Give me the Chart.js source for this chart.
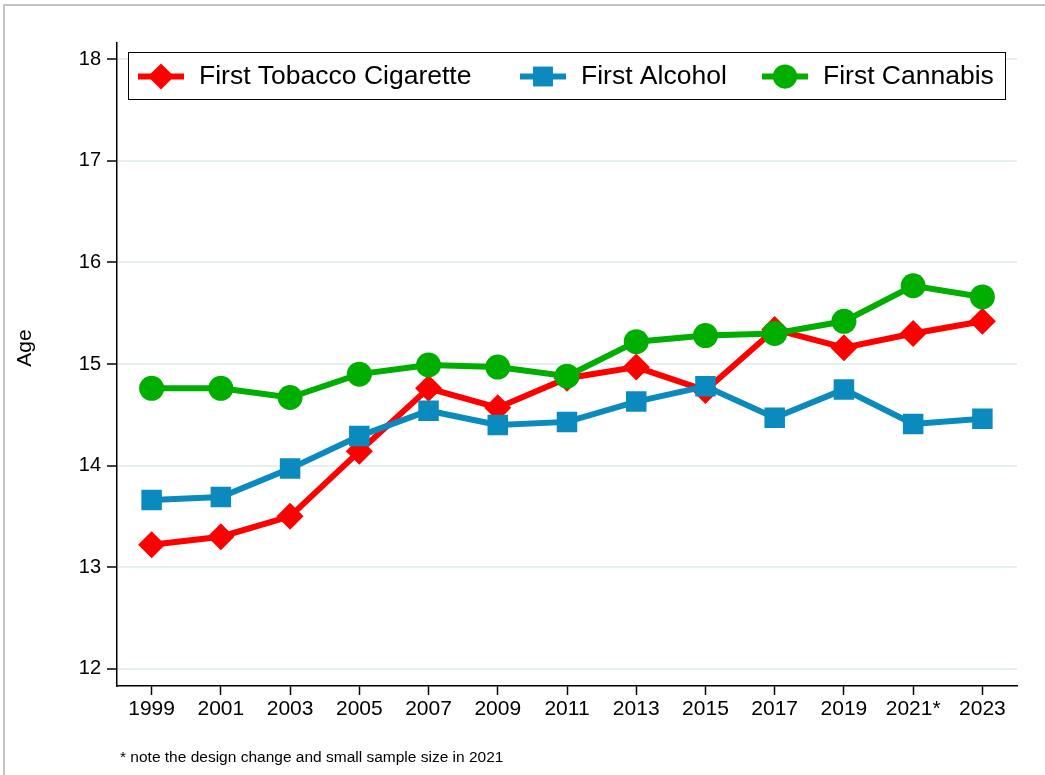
<!DOCTYPE html>
<html>
<head>
<meta charset="utf-8">
<script src="https://cdn.jsdelivr.net/npm/chart.js@4"></script>
<style>
body{margin:0;background:#fff}
#wrap{position:relative;width:1045px;height:775px;overflow:hidden}
#frame{position:absolute;left:3px;top:4px;width:1100px;height:800px;border-left:2px solid #c4c4c4;border-top:2px solid #c4c4c4}
#note{position:absolute;left:120px;top:748px;font:15.5px "Liberation Sans",Arial,sans-serif;color:#000;white-space:nowrap}
canvas{position:absolute;left:0;top:0}
</style>
</head>
<body>
<div id="wrap">
<div id="frame"></div>
<canvas id="ageChart" width="1045" height="775"></canvas>
<div id="note">* note the design change and small sample size in 2021</div>
</div>
<script>

const years=["1999","2001","2003","2005","2007","2009","2011","2013","2015","2017","2019","2021*","2023"]

const tobacco=[13.22,13.30,13.50,14.14,14.76,14.57,14.86,14.97,14.74,15.34,15.16,15.30,15.42]
const alcohol=[13.66,13.69,13.97,14.29,14.54,14.40,14.43,14.63,14.78,14.47,14.75,14.41,14.46]
const cannabis=[14.76,14.76,14.67,14.90,14.99,14.97,14.88,15.22,15.28,15.30,15.42,15.77,15.66]

const yTicks=[12,13,14,15,16,17,18]

const FONT='"Liberation Sans", Arial, sans-serif'

// legend box sits inside the plot, like the stata one
const legendBox={
id:"legendBox",
afterDraw(c){

const ctx=c.ctx
const a=c.chartArea
const bx=a.left+11, by=a.top+9, bw=a.right-a.left-23, bh=47

ctx.save()
ctx.fillStyle="#fff"
ctx.fillRect(bx,by,bw,bh)
ctx.strokeStyle="#000"
ctx.lineWidth=1
ctx.strokeRect(bx+0.5,by+0.5,bw,bh)

ctx.font="26.5px "+FONT
ctx.textBaseline="middle"

const cy=by+bh/2+1
const starts=[10,392,634]

c.data.datasets.forEach((ds,i)=>{

const x0=bx+starts[i]
ctx.strokeStyle=ds.borderColor
ctx.lineWidth=6
ctx.beginPath()
ctx.moveTo(x0,cy)
ctx.lineTo(x0+46,cy)
ctx.stroke()

const mx=x0+23, r=ds.pointRadius*0.97
ctx.fillStyle=ds.backgroundColor
ctx.beginPath()
if(ds.pointStyle=="rectRot"){
ctx.moveTo(mx-r,cy);ctx.lineTo(mx,cy-r);ctx.lineTo(mx+r,cy);ctx.lineTo(mx,cy+r);ctx.closePath()
}else if(ds.pointStyle=="rect"){
const h=r*Math.SQRT1_2
ctx.rect(mx-h,cy-h,2*h,2*h)
}else{
ctx.arc(mx,cy,r,0,Math.PI*2)
}
ctx.fill()

ctx.fillStyle="#000"
ctx.textAlign="left"
ctx.fillText(ds.label,x0+61,cy)

})

// y axis title
ctx.save()
ctx.translate(25,348)
ctx.rotate(-Math.PI/2)
ctx.textAlign="center"
ctx.font="21px "+FONT
ctx.fillText("Age",0,0)
ctx.restore()

ctx.restore()

}
}

const ctx=document.getElementById("ageChart")

chart=new Chart(ctx,{

type:"line",

data:{
labels:years,
datasets:[

{
label:"First Tobacco Cigarette",
data:tobacco,
borderColor:"#ff0000",
backgroundColor:"#ff0000",
pointStyle:"rectRot",
pointRadius:13.5,
order:2
},

{
label:"First Alcohol",
data:alcohol,
borderColor:"#0a8abd",
backgroundColor:"#0a8abd",
pointStyle:"rect",
pointRadius:14.5,
order:1
},

{
label:"First Cannabis",
data:cannabis,
borderColor:"#00ae00",
backgroundColor:"#00ae00",
pointStyle:"circle",
pointRadius:12.5,
order:0
}

]
},

options:{
responsive:false,
animation:false,
datasets:{
line:{borderWidth:6,tension:0,pointBorderWidth:0,pointHoverRadius:13,fill:false}
},
layout:{padding:{top:43,right:28,bottom:0,left:0}},
plugins:{legend:{display:false},tooltip:{enabled:false}},
scales:{

x:{
type:"category",
offset:true,
grid:{drawOnChartArea:false,tickLength:9,tickColor:"#000",tickWidth:1.5},
border:{color:"#000",width:1.5},
ticks:{color:"#000",font:{size:21,family:FONT},padding:2,maxRotation:0,autoSkip:false},
afterFit(s){s.height=89}
},

y:{
min:11.83,
max:18.16,
afterBuildTicks(s){s.ticks=yTicks.map(v=>({value:v}))},
grid:{color:"#e6eff1",lineWidth:2,tickLength:10,tickColor:"#000",tickWidth:1.5},
border:{color:"#000",width:1.5},
ticks:{color:"#000",font:{size:20,family:FONT},padding:6},
afterFit(s){s.width=117}
}

}
},

plugins:[legendBox]

})

</script>
</body>
</html>
